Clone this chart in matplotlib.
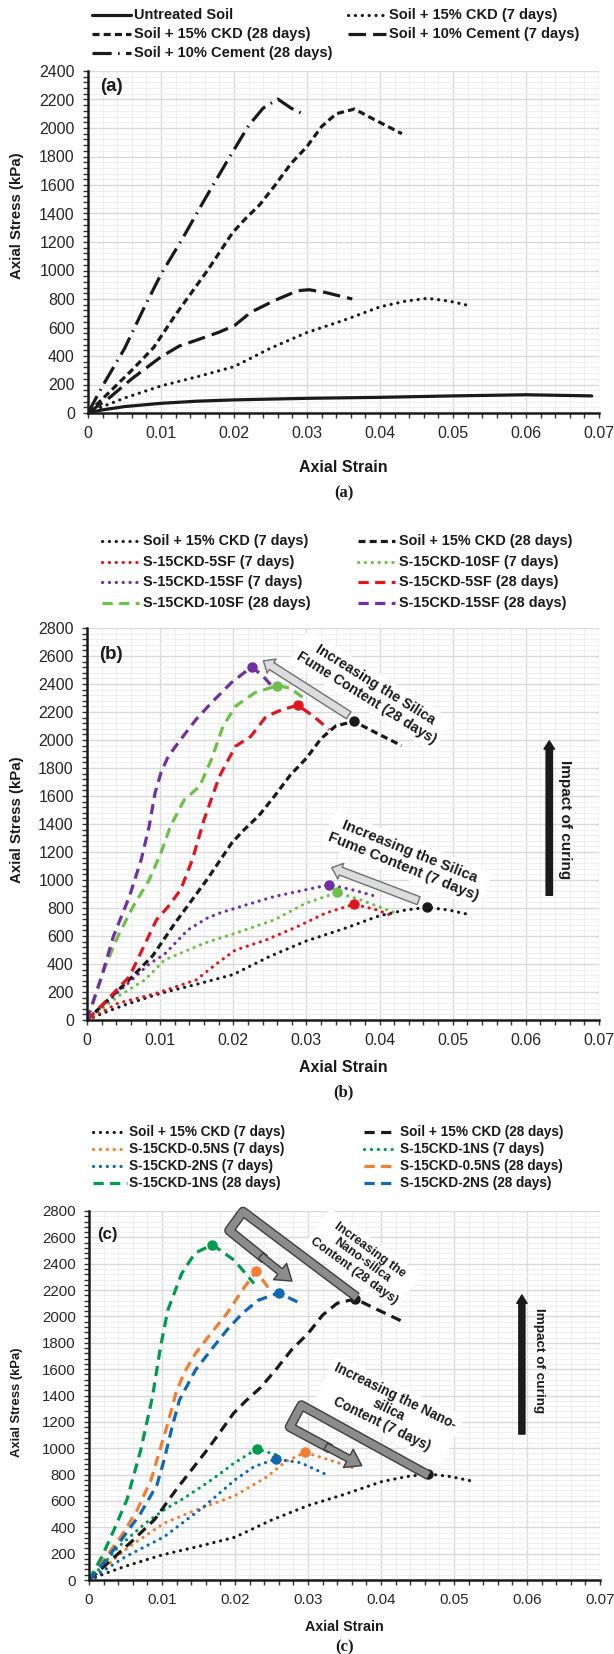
import numpy as np
import matplotlib.pyplot as plt
import matplotlib.patheffects as pe
from matplotlib.lines import Line2D
from matplotlib.patches import FancyArrowPatch, ArrowStyle
from matplotlib.ticker import MultipleLocator, FuncFormatter

plt.rcParams['font.family'] = ['Liberation Sans', 'DejaVu Sans']

# stress-strain curves (strain, axial stress in kPa)
untreated_strain = [0, 0.002, 0.005, 0.01, 0.015, 0.02, 0.03, 0.04, 0.05, 0.06, 0.069]
untreated_stress = [0, 22, 45, 68, 83, 92, 103, 110, 120, 128, 120]

ckd7_strain = [0, 0.002, 0.005, 0.01, 0.015, 0.02, 0.025, 0.03, 0.035, 0.04, 0.0435, 0.0465, 0.0495, 0.0525]
ckd7_stress = [0, 45, 105, 190, 255, 325, 455, 565, 650, 745, 785, 805, 785, 750]

ckd28_strain = [0, 0.003, 0.006, 0.009, 0.012, 0.0165, 0.0198, 0.0215, 0.0235, 0.0255, 0.0278, 0.03,
                0.032, 0.034, 0.0365, 0.039, 0.043]
ckd28_stress = [0, 150, 300, 460, 690, 1010, 1265, 1360, 1460, 1590, 1750, 1870, 2010, 2100, 2133, 2065, 1960]

cem7_strain = [0, 0.003, 0.006, 0.01, 0.0125, 0.0148, 0.018, 0.0201, 0.0223, 0.0255, 0.0287, 0.0303, 0.0325, 0.0362]
cem7_stress = [0, 110, 240, 394, 470, 510, 568, 615, 707, 788, 858, 865, 846, 800]

cem28_strain = [0, 0.002, 0.005, 0.0075, 0.01, 0.013, 0.016, 0.019, 0.022, 0.024, 0.026, 0.0278, 0.0298]
cem28_stress = [0, 190, 452, 719, 974, 1229, 1500, 1762, 2017, 2140, 2203, 2140, 2090]

# silica fume mixes
sf5_7_strain = [0, 0.0042, 0.0095, 0.0149, 0.0181, 0.0203, 0.0245, 0.0288, 0.0326, 0.0365, 0.0396, 0.042]
sf5_7_stress = [0, 119, 191, 286, 417, 500, 572, 668, 763, 827, 787, 739]

sf10_7_strain = [0, 0.0042, 0.0079, 0.0106, 0.016, 0.0203, 0.0256, 0.0299, 0.0342, 0.0374, 0.042]
sf10_7_stress = [0, 167, 286, 429, 548, 620, 715, 834, 911, 858, 768]

sf15_7_strain = [0, 0.003, 0.006, 0.0085, 0.0106, 0.0138, 0.0165, 0.0181, 0.0203, 0.0256, 0.0299, 0.0331, 0.0363, 0.0396]
sf15_7_stress = [0, 140, 280, 400, 470, 644, 730, 763, 799, 882, 930, 966, 930, 882]

sf5_28_strain = [0, 0.0023, 0.0058, 0.0095, 0.0111, 0.0128, 0.0144, 0.016, 0.0181, 0.0203, 0.0224, 0.0245,
                 0.0267, 0.0288, 0.031, 0.0331]
sf5_28_stress = [0, 119, 310, 715, 810, 930, 1144, 1430, 1740, 1955, 2026, 2169, 2217, 2248, 2169, 2074]

sf10_28_strain = [0, 0.0023, 0.0042, 0.0063, 0.0085, 0.0101, 0.0114, 0.0133, 0.0154, 0.017, 0.0186, 0.0203,
                  0.0229, 0.026, 0.0278, 0.0296]
sf10_28_stress = [0, 358, 596, 810, 1001, 1192, 1383, 1573, 1669, 1860, 2098, 2241, 2336, 2389, 2370, 2300]

sf15_28_strain = [0, 0.002, 0.0036, 0.0058, 0.0074, 0.0085, 0.0093, 0.0101, 0.0111, 0.0128, 0.0149, 0.017,
                  0.0197, 0.0225, 0.024, 0.0251]
sf15_28_stress = [0, 310, 596, 882, 1144, 1383, 1621, 1764, 1883, 2003, 2146, 2265, 2408, 2522, 2460, 2396]

# nano-silica mixes
ns05_7_strain = [0, 0.002, 0.0055, 0.0103, 0.0146, 0.02, 0.0243, 0.027, 0.0296, 0.0328, 0.0363]
ns05_7_stress = [0, 90, 252, 432, 530, 640, 780, 900, 968, 913, 850]

ns1_7_strain = [0, 0.002, 0.004, 0.0077, 0.0105, 0.013, 0.0168, 0.0199, 0.023, 0.0256]
ns1_7_stress = [0, 120, 250, 430, 540, 620, 760, 888, 994, 951]

ns2_7_strain = [0, 0.005, 0.0103, 0.0157, 0.02, 0.0226, 0.0256, 0.029, 0.0325]
ns2_7_stress = [0, 177, 328, 555, 760, 860, 918, 890, 800]

ns05_28_strain = [0, 0.002, 0.0045, 0.0065, 0.0085, 0.0108, 0.0119, 0.013, 0.0146, 0.0167, 0.0189, 0.021,
                  0.0229, 0.0248]
ns05_28_stress = [0, 150, 340, 520, 760, 1190, 1417, 1569, 1720, 1871, 2023, 2199, 2345, 2199]

ns1_28_strain = [0, 0.0018, 0.0035, 0.0052, 0.0071, 0.0087, 0.0098, 0.0108, 0.0127, 0.0145, 0.0169, 0.0199, 0.0226]
ns1_28_stress = [0, 180, 390, 610, 989, 1392, 1770, 2048, 2325, 2480, 2545, 2426, 2250]

ns2_28_strain = [0, 0.002, 0.0045, 0.007, 0.0093, 0.0103, 0.0114, 0.0124, 0.0146, 0.0167, 0.0189, 0.021,
                 0.0232, 0.026, 0.0288]
ns2_28_stress = [0, 130, 310, 500, 720, 913, 1165, 1367, 1594, 1745, 1897, 2023, 2123, 2179, 2103]

BLACK = '#1a1a1a'
RED = '#e0161f'
LGREEN = '#6cc04a'
PURPLE = '#7030a0'
ORANGE = '#f07f33'
GREEN = '#009a4e'
BLUE = '#1068b0'

LW = 2.3
SOLID = dict(ls='-', lw=LW, solid_capstyle='round')
DOTS = dict(ls=(0, (0.05, 2.1)), lw=LW, dash_capstyle='round')
SHORT = dict(ls=(0, (2.2, 1.3)), lw=LW)
MED = dict(ls=(0, (3.2, 2.0)), lw=LW)
LONG = dict(ls=(0, (5.5, 2.2)), lw=LW)
LONGDOT = dict(ls=(0, (6.0, 2.0, 0.5, 2.0)), lw=LW)

W, H = 614, 1654
fig = plt.figure(figsize=(W / 100, H / 100), dpi=100)


def fx(px):
    return px / W


def fy(py):
    return 1 - py / H


def setup_axes(left, right, top, bottom, ymax, tick_fs):
    ax = fig.add_axes([fx(left), fy(bottom), (right - left) / W, (bottom - top) / H])
    ax.set_xlim(0, 0.07)
    ax.set_ylim(0, ymax)
    ax.xaxis.set_major_locator(MultipleLocator(0.01))
    ax.xaxis.set_minor_locator(MultipleLocator(0.002))
    ax.yaxis.set_major_locator(MultipleLocator(200))
    ax.yaxis.set_minor_locator(MultipleLocator(40))
    ax.xaxis.set_major_formatter(FuncFormatter(lambda v, p: '0' if abs(v) < 1e-9 else f'{v:.2f}'))
    ax.yaxis.set_major_formatter(FuncFormatter(lambda v, p: f'{v:.0f}'))
    ax.grid(which='major', color='#d9d9d9', lw=1.0)
    ax.grid(which='minor', color='#efefef', lw=0.8)
    ax.set_axisbelow(True)
    for s in ('top', 'right'):
        ax.spines[s].set_visible(False)
    for s in ('left', 'bottom'):
        ax.spines[s].set_linewidth(1.8)
        ax.spines[s].set_color(BLACK)
    ax.tick_params(which='both', direction='out', length=3.5, width=1, color='#333333')
    ax.tick_params(which='major', labelsize=tick_fs, pad=6, labelcolor='#262626')
    return ax


def legend_entry(x0, x1, y, label, fs, color, style, gap=3):
    fig.add_artist(Line2D([fx(x0), fx(x1)], [fy(y), fy(y)], transform=fig.transFigure,
                          color=color, **style))
    fig.text(fx(x1 + gap), fy(y), label, fontsize=fs, fontweight='bold', va='center', ha='left',
             color=BLACK)


def curve(ax, x, y, color, style, peak=False):
    ax.plot(x, y, color=color, **style)
    if peak:
        i = int(np.argmax(y))
        ax.plot(x[i], y[i], 'o', ms=6.5, color=color, zorder=3)


def labels(ax_center_x, ylab_y, xlab_y, cap_y, cap, xfs, yfs):
    fig.text(fx(17), fy(ylab_y), 'Axial Stress (kPa)', rotation=90, ha='center', va='center',
             fontsize=yfs, fontweight='bold', color=BLACK)
    fig.text(fx(ax_center_x), fy(xlab_y), 'Axial Strain', ha='center', va='center',
             fontsize=xfs, fontweight='bold', color=BLACK)
    fig.text(fx(ax_center_x), fy(cap_y), cap, ha='center', va='center', fontsize=12,
             fontweight='bold', family=['Liberation Serif', 'DejaVu Serif'], color=BLACK)


def block_arrow(ax, tail, head, tw, hw, hl, fc, ec):
    ax.add_patch(FancyArrowPatch(tail, head, mutation_scale=1, fc=fc, ec=ec, lw=1.0, zorder=4,
                                 arrowstyle=ArrowStyle.Simple(head_length=hl, head_width=hw, tail_width=tw)))


def hook_arrow(ax, pts, tip):
    p2 = np.array(pts[-1])
    t = np.array(tip)
    end = p2 + 0.55 * (t - p2)
    start_head = p2 + 0.45 * (t - p2)
    xs = [p[0] for p in pts] + [end[0]]
    ys = [p[1] for p in pts] + [end[1]]
    ax.plot(xs, ys, color='#8c8c8c', lw=5.2, solid_joinstyle='round', solid_capstyle='butt', zorder=4,
            clip_on=False, path_effects=[pe.Stroke(linewidth=7.2, foreground='#3d3d3d'), pe.Normal()])
    ax.add_patch(FancyArrowPatch(tuple(start_head), tip, mutation_scale=1, fc='#8c8c8c', ec='#3d3d3d',
                                 lw=1.0, zorder=4, clip_on=False,
                                 arrowstyle=ArrowStyle.Simple(head_length=11, head_width=15, tail_width=5.2)))


def note(ax, x, y, text, rot, fs):
    ax.text(x, y, text, rotation=rot, rotation_mode='anchor', ha='center', va='center', fontsize=fs,
            fontweight='bold', color=BLACK, linespacing=1.15, zorder=1.6,
            bbox=dict(facecolor='white', edgecolor='none', pad=3))


# ---------------- (a) ----------------
ax = setup_axes(88, 599, 71, 413, 2400, 11.5)
curve(ax, untreated_strain, untreated_stress, BLACK, SOLID)
curve(ax, ckd7_strain, ckd7_stress, BLACK, DOTS)
curve(ax, ckd28_strain, ckd28_stress, BLACK, SHORT)
curve(ax, cem7_strain, cem7_stress, BLACK, LONG)
curve(ax, cem28_strain, cem28_stress, BLACK, LONGDOT)
ax.text(0.0016, 2290, '(a)', fontsize=13.5, fontweight='bold', va='center', color=BLACK)

legend_entry(92, 131, 15, 'Untreated Soil', 10.5, BLACK, SOLID)
legend_entry(348, 386, 15, 'Soil + 15% CKD (7 days)', 10.5, BLACK, DOTS)
legend_entry(92, 131, 34, 'Soil + 15% CKD (28 days)', 10.5, BLACK, SHORT)
legend_entry(348, 386, 34, 'Soil + 10% Cement (7 days)', 10.5, BLACK, LONG)
legend_entry(92, 131, 53, 'Soil + 10% Cement (28 days)', 10.5, BLACK, LONGDOT)
labels(343.5, 216, 467, 493, '(a)', 11.5, 10.8)

# ---------------- (b) ----------------
ax = setup_axes(87, 599, 628, 1020, 2800, 11.5)
curve(ax, ckd7_strain, ckd7_stress, BLACK, DOTS, True)
curve(ax, sf5_7_strain, sf5_7_stress, RED, DOTS, True)
curve(ax, sf10_7_strain, sf10_7_stress, LGREEN, DOTS, True)
curve(ax, sf15_7_strain, sf15_7_stress, PURPLE, DOTS, True)
curve(ax, ckd28_strain, ckd28_stress, BLACK, SHORT, True)
curve(ax, sf5_28_strain, sf5_28_stress, RED, MED, True)
curve(ax, sf10_28_strain, sf10_28_stress, LGREEN, MED, True)
curve(ax, sf15_28_strain, sf15_28_stress, PURPLE, MED, True)
ax.text(0.0016, 2610, '(b)', fontsize=13.5, fontweight='bold', va='center', color=BLACK)

note(ax, 0.0388, 2350, 'Increasing the Silica\nFume Content (28 days)', -32, 10.3)
note(ax, 0.0437, 1150, 'Increasing the Silica\nFume Content (7 days)', -22, 10.8)
block_arrow(ax, (0.0361, 2166), (0.0238, 2576), 6.0, 12.0, 7.0, '#dcdcdc', '#707070')
block_arrow(ax, (0.0457, 845), (0.0331, 1095), 6.0, 12.0, 7.0, '#dcdcdc', '#707070')
block_arrow(ax, (0.0632, 871), (0.0632, 2014), 4.6, 7.6, 6.0, BLACK, BLACK)
ax.text(0.0654, 1429, 'Impact of curing', rotation=-90, ha='center', va='center', fontsize=11,
        fontweight='bold', color=BLACK)

legend_entry(102, 139, 541, 'Soil + 15% CKD (7 days)', 10.4, BLACK, DOTS, 4)
legend_entry(358, 395, 541, 'Soil + 15% CKD (28 days)', 10.4, BLACK, SHORT, 4)
legend_entry(102, 139, 562, 'S-15CKD-5SF (7 days)', 10.4, RED, DOTS, 4)
legend_entry(358, 395, 562, 'S-15CKD-10SF (7 days)', 10.4, LGREEN, DOTS, 4)
legend_entry(102, 139, 582, 'S-15CKD-15SF (7 days)', 10.4, PURPLE, DOTS, 4)
legend_entry(358, 395, 582, 'S-15CKD-5SF (28 days)', 10.4, RED, MED, 4)
legend_entry(102, 139, 603, 'S-15CKD-10SF (28 days)', 10.4, LGREEN, MED, 4)
legend_entry(358, 395, 603, 'S-15CKD-15SF (28 days)', 10.4, PURPLE, MED, 4)
labels(343, 820, 1068, 1092, '(b)', 11.5, 10.8)

# ---------------- (c) ----------------
ax = setup_axes(89, 600, 1211, 1580, 2800, 10.8)
curve(ax, ckd7_strain, ckd7_stress, BLACK, DOTS, True)
curve(ax, ns05_7_strain, ns05_7_stress, ORANGE, DOTS, True)
curve(ax, ns1_7_strain, ns1_7_stress, GREEN, DOTS, True)
curve(ax, ns2_7_strain, ns2_7_stress, BLUE, DOTS, True)
curve(ax, ckd28_strain, ckd28_stress, BLACK, MED, True)
curve(ax, ns05_28_strain, ns05_28_stress, ORANGE, MED, True)
curve(ax, ns1_28_strain, ns1_28_stress, GREEN, MED, True)
curve(ax, ns2_28_strain, ns2_28_stress, BLUE, MED, True)
ax.text(0.0011, 2620, '(c)', fontsize=12, fontweight='bold', va='center', color=BLACK)

note(ax, 0.0374, 2424, 'Increasing the\nNano-silica\nContent (28 days)', -36, 9.0)
note(ax, 0.0410, 1288, 'Increasing the Nano-\nsilica\nContent (7 days)', -26, 9.8)
hook_arrow(ax, [(0.0367, 2146), (0.0211, 2795), (0.0192, 2652)], (0.0281, 2255))
hook_arrow(ax, [(0.0465, 795), (0.0291, 1326), (0.0275, 1161)], (0.0377, 858))
block_arrow(ax, (0.0593, 1086), (0.0593, 2184), 4.4, 7.4, 6.0, BLACK, BLACK)
ax.text(0.0617, 1667, 'Impact of curing', rotation=-90, ha='center', va='center', fontsize=9.7,
        fontweight='bold', color=BLACK)

legend_entry(93, 127, 1132, 'Soil + 15% CKD (7 days)', 9.8, BLACK, DOTS, 2)
legend_entry(364, 393, 1132, 'Soil + 15% CKD (28 days)', 9.8, BLACK, MED, 7)
legend_entry(93, 127, 1149, 'S-15CKD-0.5NS (7 days)', 9.8, ORANGE, DOTS, 2)
legend_entry(364, 393, 1149, 'S-15CKD-1NS (7 days)', 9.8, GREEN, DOTS, 7)
legend_entry(93, 127, 1166, 'S-15CKD-2NS (7 days)', 9.8, BLUE, DOTS, 2)
legend_entry(364, 393, 1166, 'S-15CKD-0.5NS (28 days)', 9.8, ORANGE, MED, 7)
legend_entry(93, 127, 1183, 'S-15CKD-1NS (28 days)', 9.8, GREEN, MED, 2)
legend_entry(364, 393, 1183, 'S-15CKD-2NS (28 days)', 9.8, BLUE, MED, 7)
labels(344.5, 1402, 1627, 1647, '(c)', 10.3, 9.4)

fig.savefig('out.png', dpi=100, facecolor='white')
